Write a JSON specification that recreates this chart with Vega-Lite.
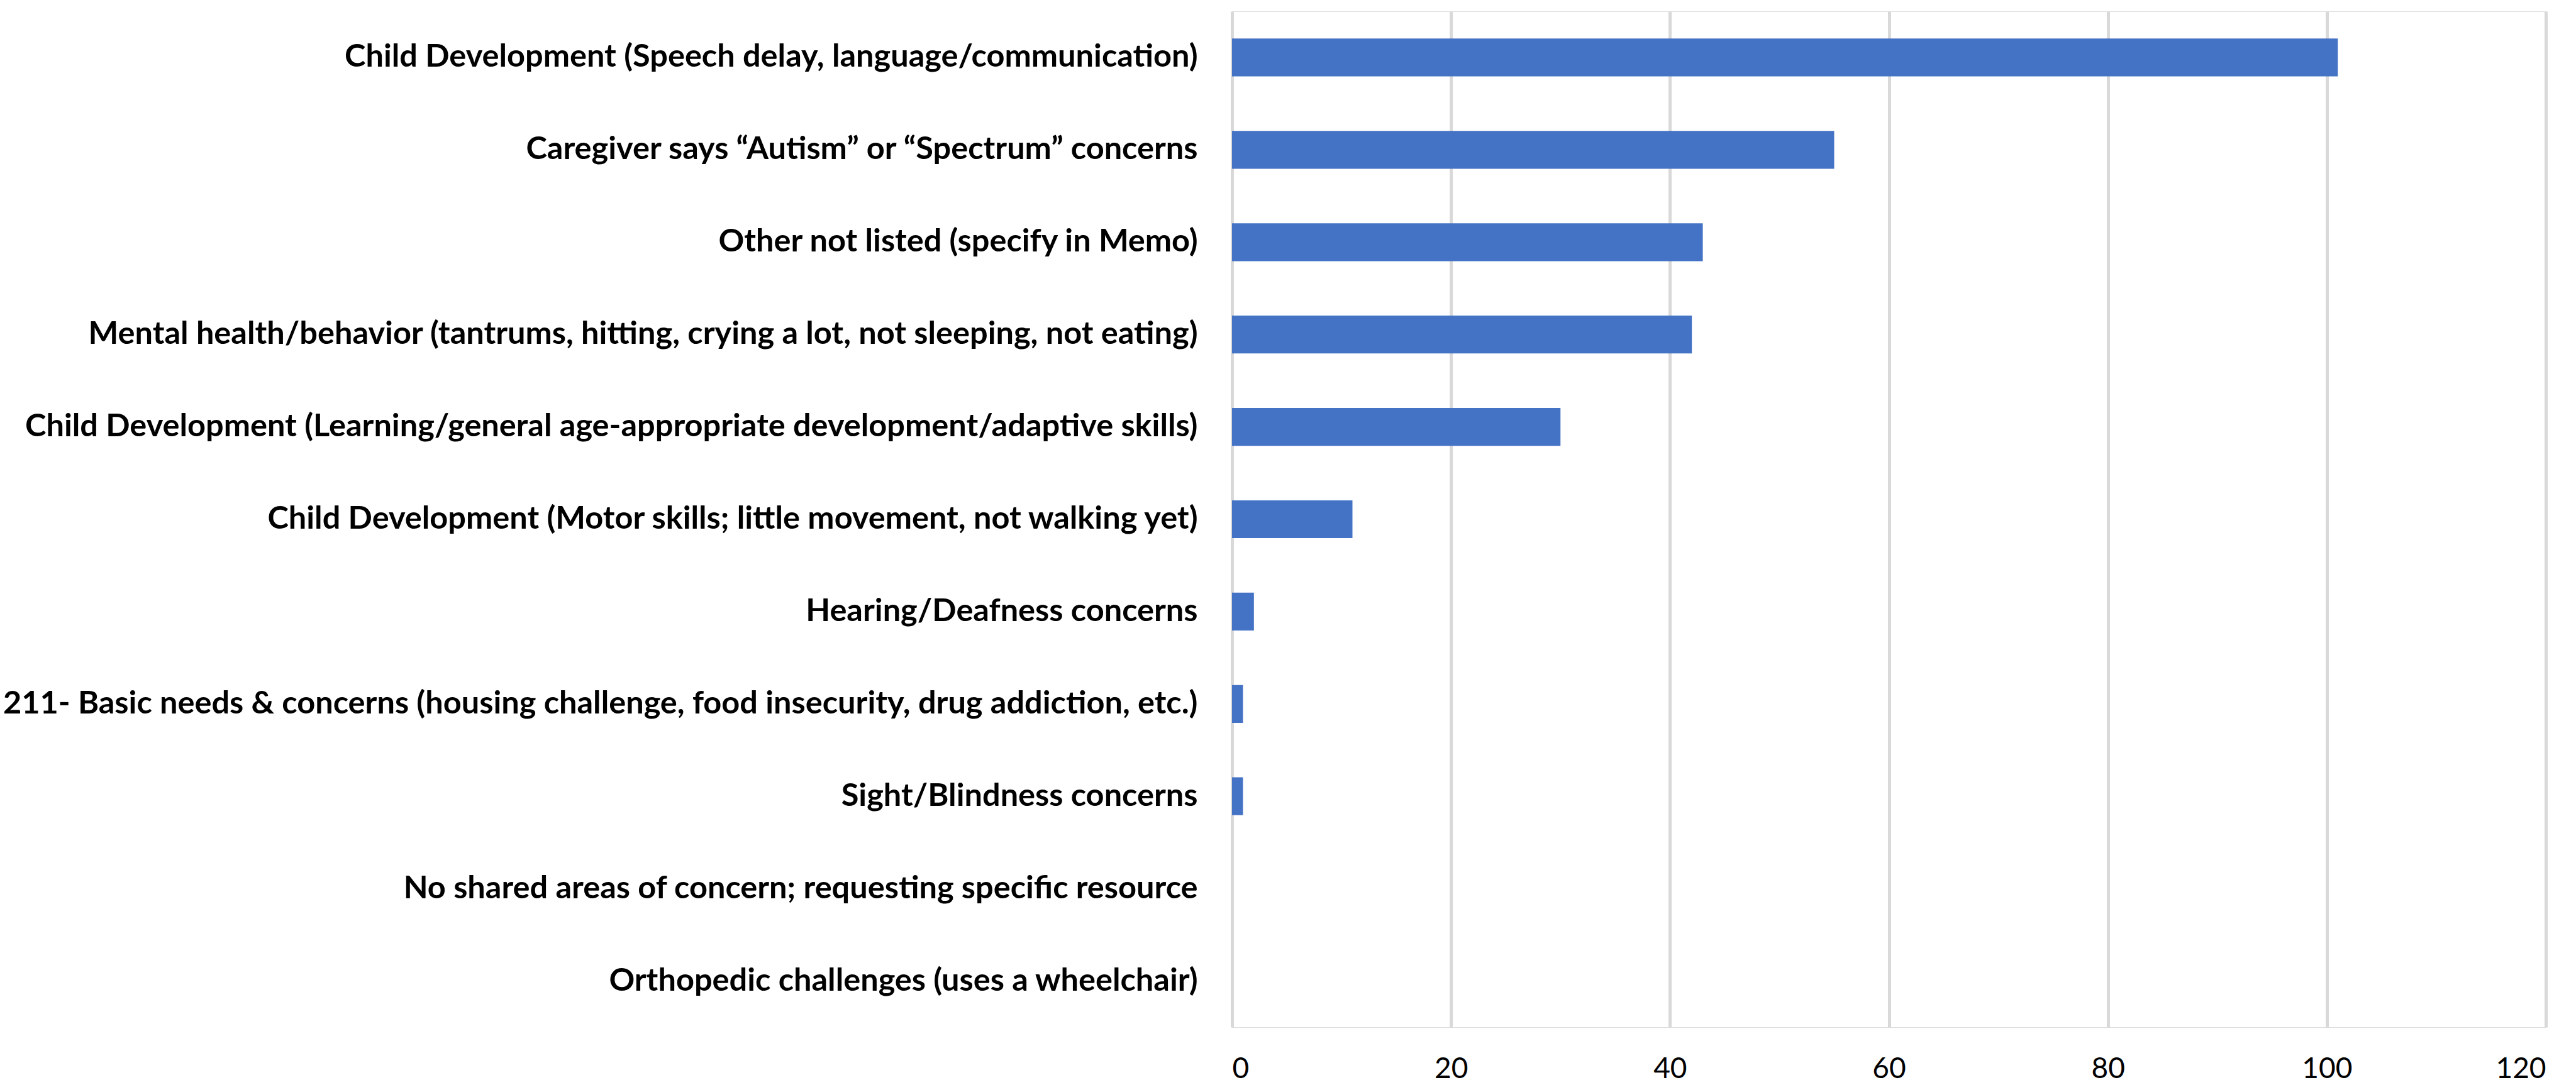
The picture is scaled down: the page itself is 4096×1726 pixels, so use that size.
{
  "$schema": "https://vega.github.io/schema/vega-lite/v6.json",
  "autosize": {"type": "none"},
  "padding": {"left": 1959, "top": 18, "right": 48, "bottom": 92},
  "width": 2089,
  "height": 1616,
  "background": "white",
  "data": {
    "values": [
      {"concern": "Child Development (Speech delay, language/communication)", "count": 101},
      {"concern": "Caregiver says “Autism” or “Spectrum” concerns", "count": 55},
      {"concern": "Other not listed (specify in Memo)", "count": 43},
      {"concern": "Mental health/behavior (tantrums, hitting, crying a lot, not sleeping, not eating)", "count": 42},
      {"concern": "Child Development (Learning/general age-appropriate development/adaptive skills)", "count": 30},
      {"concern": "Child Development (Motor skills; little movement, not walking yet)", "count": 11},
      {"concern": "Hearing/Deafness concerns", "count": 2},
      {"concern": "211- Basic needs & concerns (housing challenge, food insecurity, drug addiction, etc.)", "count": 1},
      {"concern": "Sight/Blindness concerns", "count": 1},
      {"concern": "No shared areas of concern; requesting specific resource", "count": 0},
      {"concern": "Orthopedic challenges (uses a wheelchair)", "count": 0}
    ]
  },
  "mark": {"type": "bar", "color": "#4472C4"},
  "encoding": {
    "y": {
      "field": "concern",
      "type": "nominal",
      "sort": null,
      "scale": {"paddingInner": 0.59, "paddingOuter": 0.295},
      "axis": {
        "title": null,
        "domain": false,
        "ticks": false,
        "grid": false,
        "labelFont": "Lato",
        "labelFontWeight": "bold",
        "labelFontSize": 50.5,
        "labelColor": "#000000",
        "labelPadding": 55,
        "labelLimit": 3000
      }
    },
    "x": {
      "field": "count",
      "type": "quantitative",
      "scale": {"domain": [0, 120], "nice": false},
      "axis": {
        "title": null,
        "values": [0, 20, 40, 60, 80, 100, 120],
        "domain": false,
        "ticks": false,
        "grid": true,
        "gridColor": "#d9d9d9",
        "gridWidth": 5,
        "labelFont": "Lato",
        "labelFontSize": 46,
        "labelColor": "#000000",
        "labelBaseline": "middle",
        "labelPadding": 66
      }
    }
  }
}
